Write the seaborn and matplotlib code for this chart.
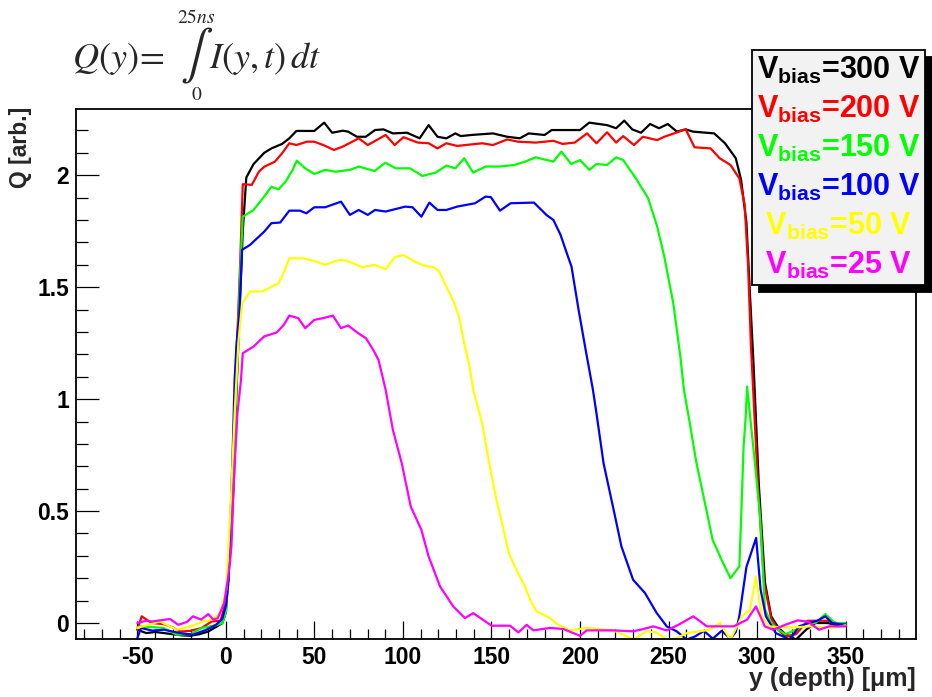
import numpy as np
import pandas as pd
import matplotlib
matplotlib.use("Agg")
import matplotlib.pyplot as plt
import seaborn as sns
from matplotlib.ticker import MultipleLocator, FixedLocator, FixedFormatter
from matplotlib.lines import Line2D

# ---------------- data ----------------
series_names = ["300 V", "200 V", "150 V", "100 V", "50 V", "25 V"]
series_colors = ["#000000", "#ff0000", "#00ff00", "#0000ff", "#ffff00", "#ff00ff"]

x_300 = [-50, -45, -40, -35, -30, -25, -20, -15, -10, -5, -2, 0, 2.5, 4.5, 5.5, 7.5, 9.5, 11.5,
         15.6, 21.6, 25.7, 31.7, 35.8, 39.8, 49.9, 55.5, 60, 66, 69, 74, 79, 84.2, 89, 94.3,
         102.3, 109.4, 114.5, 119.5, 124.5, 129.6, 132.6, 138.7, 150.8, 158.9, 166, 171, 180,
         184, 200, 205.2, 215.3, 220.4, 225, 229.5, 234.5, 239.6, 244.6, 249.6, 254.7, 259.7,
         263.8, 275.8, 281.9, 288, 291, 294, 296, 298, 301, 304.5, 308, 312, 316, 322, 327.7,
         333, 340, 345, 350]
q_300 = [-0.03, -0.045, -0.04, -0.045, -0.05, -0.055, -0.057, -0.05, -0.038, -0.015, 0.0, 0.05,
         0.34, 0.64, 0.94, 1.35, 1.75, 1.99, 2.05, 2.10, 2.12, 2.14, 2.165, 2.198, 2.198, 2.235,
         2.19, 2.199, 2.195, 2.172, 2.172, 2.202, 2.205, 2.187, 2.19, 2.165, 2.224, 2.172, 2.165,
         2.187, 2.175, 2.18, 2.187, 2.172, 2.165, 2.187, 2.18, 2.202, 2.202, 2.235, 2.224, 2.21,
         2.244, 2.205, 2.19, 2.229, 2.21, 2.229, 2.195, 2.205, 2.195, 2.187, 2.143, 2.076, 1.979,
         1.79, 1.47, 1.16, 0.62, 0.18, 0.03, -0.02, -0.05, -0.074, -0.03, 0.0, 0.0, -0.01, -0.01]

x_200 = [-50, -47.6, -42, -35, -30, -26, -20, -13.7, -8, -3, 0, 2.5, 5, 6.5, 8, 9.5, 14.6, 18.6,
         21.6, 27.7, 31.7, 35.8, 39.8, 45.8, 49.9, 55, 61, 66, 75, 80.1, 90.2, 95.3, 100.3, 108.4,
         114.5, 119.5, 124.5, 130.6, 144.7, 150.8, 158.9, 165, 175, 185, 190.1, 197, 204, 209.3,
         215.3, 220.4, 224.4, 230.5, 235.5, 243.6, 247.6, 259.7, 264.7, 273.8, 278.9, 285, 290,
         293, 295, 296.5, 300.5, 304, 308, 312, 316, 322, 328.5, 334, 340, 345, 350]
q_200 = [-0.03, 0.03, 0.0, -0.005, -0.02, -0.038, -0.035, -0.022, 0.007, 0.01, 0.1, 0.4, 0.95,
         1.3, 1.6, 1.96, 1.957, 2.016, 2.038, 2.061, 2.098, 2.143, 2.135, 2.15, 2.15, 2.135, 2.113,
         2.128, 2.165, 2.135, 2.18, 2.135, 2.17, 2.146, 2.143, 2.12, 2.143, 2.131, 2.143, 2.135,
         2.16, 2.15, 2.146, 2.154, 2.14, 2.146, 2.187, 2.143, 2.192, 2.146, 2.175, 2.135, 2.172,
         2.157, 2.172, 2.205, 2.125, 2.12, 2.076, 2.046, 1.986, 1.87, 1.59, 1.25, 0.62, 0.18,
         0.02, -0.03, -0.06, -0.05, 0.01, 0.01, 0.01, 0.0, -0.005]

x_150 = [-50, -48.7, -42, -35.3, -27.8, -20, -13.7, -5.6, -2, 0, 2.5, 4.5, 6.5, 8, 9.5, 15.6,
         21.6, 25.7, 29.7, 33.7, 37.7, 40, 44.8, 49.9, 56, 62, 70, 75, 84, 90, 96, 104, 111,
         118.5, 124.5, 129.6, 134.6, 139.6, 146.7, 154.8, 163, 169, 175, 185, 189.5, 195, 200,
         205.3, 209.3, 215.3, 220.4, 224.4, 231.5, 238.5, 243.6, 247.6, 252.7, 256.7, 258.7,
         261.7, 265.8, 269.8, 274.9, 280, 285, 290, 291, 292.4, 293.6, 294.4, 296, 299, 301.7,
         304.5, 308, 312, 316, 322, 328, 333, 338.6, 344, 350]
q_150 = [-0.02, -0.015, -0.018, -0.022, -0.052, -0.05, -0.022, -0.01, 0.0, 0.05, 0.35, 0.75,
         1.2, 1.55, 1.815, 1.845, 1.905, 1.949, 1.937, 1.972, 2.024, 2.065, 2.031, 2.006, 2.024,
         2.016, 2.024, 2.039, 2.019, 2.056, 2.031, 2.031, 1.997, 2.012, 2.043, 2.031, 2.076,
         2.012, 2.039, 2.039, 2.046, 2.061, 2.08, 2.061, 2.106, 2.05, 2.068, 2.024, 2.05, 2.046,
         2.08, 2.068, 1.987, 1.897, 1.771, 1.637, 1.428, 1.19, 1.042, 0.907, 0.714, 0.565,
         0.372, 0.282, 0.2, 0.253, 0.461, 0.788, 0.922, 1.056, 0.93, 0.7, 0.476, 0.06, 0.0,
         -0.03, -0.05, -0.03, 0.0, 0.0, 0.04, 0.0, 0.0]

x_100 = [-50, -48, -41.6, -35, -26, -18.6, -11, -5.6, -2, 0, 1.5, 2.5, 3.9, 4.9, 6, 7.5, 9.1,
         13.6, 21.6, 25.7, 30.7, 35.8, 41.8, 45.4, 49.9, 56, 65, 70, 75, 80.1, 84.2, 90.2, 101.3,
         105.4, 110.4, 114.9, 119.5, 124.5, 130.6, 140.7, 146.7, 149.7, 154.8, 160.8, 174, 181,
         185, 189, 193.2, 195.2, 199.2, 203.2, 207.3, 209.3, 213.3, 219.4, 223.4, 230, 236.7,
         243.3, 249, 254.6, 260.3, 265, 270, 275, 280, 285, 288, 290, 294, 299.5, 302, 305,
         310.6, 318.6, 323.7, 329.4, 334, 338.6, 342.4, 348, 350]
q_100 = [-0.067, -0.022, -0.034, -0.03, -0.045, -0.052, -0.03, -0.008, 0.02, 0.08, 0.19, 0.45,
         0.79, 1.086, 1.25, 1.37, 1.667, 1.689, 1.748, 1.786, 1.789, 1.842, 1.842, 1.83, 1.857,
         1.857, 1.882, 1.823, 1.845, 1.823, 1.845, 1.838, 1.86, 1.857, 1.815, 1.878, 1.845,
         1.845, 1.86, 1.875, 1.905, 1.902, 1.842, 1.875, 1.878, 1.823, 1.8, 1.734, 1.637, 1.592,
         1.399, 1.22, 1.042, 0.937, 0.714, 0.491, 0.342, 0.193, 0.134, 0.045, -0.015, -0.037,
         -0.074, -0.06, -0.035, -0.07, -0.035, -0.07, -0.04, 0.03, 0.25, 0.38, 0.15, 0.03,
         -0.045, -0.074, -0.015, 0.0, 0.01, 0.03, 0.0, -0.006, -0.006]

x_50 = [-50, -45, -37.3, -27.8, -20, -12.8, -8, -3.3, 0.2, 2.5, 5, 7, 9.1, 13.6, 20.6, 29.7,
        31.7, 35.8, 43.8, 49.9, 56, 64, 68, 77.1, 84.2, 90.2, 95.3, 100.3, 106.4, 112.4, 117.5,
        120.5, 124.5, 128.6, 131.6, 134.6, 137.6, 139.7, 144.7, 148.7, 152.8, 156.8, 159.8,
        164.9, 168, 172.7, 175.5, 183, 187.7, 194.3, 203.8, 218.8, 224.4, 230, 237.6, 243.3,
        249, 254, 260.3, 267.8, 273, 279.2, 284.9, 291.5, 296, 299.4, 302.7, 307, 313, 320, 330,
        338, 345, 350]
q_50 = [-0.022, -0.01, 0.007, -0.03, -0.015, 0.007, 0.015, 0.044, 0.148, 0.5, 0.95, 1.25, 1.428,
        1.481, 1.481, 1.518, 1.548, 1.629, 1.629, 1.617, 1.6, 1.622, 1.619, 1.589, 1.6, 1.58,
        1.634, 1.644, 1.615, 1.595, 1.589, 1.57, 1.503, 1.436, 1.369, 1.25, 1.146, 1.042, 0.893,
        0.714, 0.55, 0.416, 0.312, 0.223, 0.178, 0.089, 0.052, 0.022, -0.008, -0.033, -0.022,
        -0.033, -0.052, -0.074, -0.037, -0.042, -0.074, -0.07, -0.045, -0.037, -0.03, 0.0,
        -0.074, 0.03, 0.06, 0.208, 0.03, -0.015, -0.02, -0.02, -0.015, -0.02, -0.02, -0.01]

x_25 = [-50, -45, -41.6, -31.6, -26.9, -22, -18.6, -14, -10, -7, -4.6, -1, 1.3, 2.4, 3.1, 4.5,
        6.5, 8.5, 9.5, 15.6, 21.6, 28.7, 32.7, 35.8, 40.8, 44.8, 49.9, 55, 60.4, 65, 69, 74.1,
        79.1, 83.2, 86.2, 90.2, 94.3, 99.3, 104.4, 110.4, 114.5, 120.9, 128.4, 135, 139.7,
        150.1, 160.5, 165.2, 169.9, 173.6, 183, 190.6, 200, 203.8, 218.8, 230.1, 235.8, 241.4,
        249, 255.6, 264, 271.7, 286.8, 294.4, 299.4, 304.4, 309, 316.6, 323, 329, 335, 340.7,
        350]
q_25 = [0.0, 0.01, 0.007, 0.018, -0.008, 0.005, 0.03, 0.015, 0.04, 0.015, 0.022, 0.089, 0.208,
        0.28, 0.342, 0.64, 0.937, 1.086, 1.205, 1.235, 1.28, 1.298, 1.332, 1.373, 1.362, 1.317,
        1.354, 1.362, 1.373, 1.317, 1.329, 1.298, 1.272, 1.22, 1.175, 1.042, 0.863, 0.714, 0.52,
        0.416, 0.297, 0.164, 0.074, 0.022, 0.044, -0.012, -0.012, -0.042, -0.008, -0.033,
        -0.022, -0.027, -0.057, -0.033, -0.033, -0.037, -0.027, -0.015, -0.033, -0.008, 0.03,
        -0.015, -0.015, 0.015, 0.074, -0.015, -0.03, -0.006, 0.012, 0.005, -0.03, -0.015, -0.015]

series_x = [x_300, x_200, x_150, x_100, x_50, x_25]
series_q = [q_300, q_200, q_150, q_100, q_50, q_25]

x_major_ticks = [-50, 0, 50, 100, 150, 200, 250, 300, 350]
x_tick_labels = ["-50", "0", "50", "100", "150", "200", "250", "300", "350"]
y_major_ticks = [0, 0.5, 1, 1.5, 2]
y_tick_labels = ["0", "0.5", "1", "1.5", "2"]

# ---------------- style ----------------
sns.set_theme(style="white")
plt.rcParams["font.family"] = ["Liberation Sans", "DejaVu Sans"]
plt.rcParams["font.weight"] = "normal"
plt.rcParams["mathtext.fontset"] = "custom"
plt.rcParams["mathtext.rm"] = "Liberation Sans:bold"
plt.rcParams["mathtext.it"] = "Liberation Sans:bold"
plt.rcParams["mathtext.bf"] = "Liberation Sans:bold"

frames = []
for name, xs, qs in zip(series_names, series_x, series_q):
    frames.append(pd.DataFrame({"y": xs, "Q": qs, "Vbias": name}))
df = pd.concat(frames, ignore_index=True)

W, H = 932, 697
fig = plt.figure(figsize=(W / 100, H / 100), dpi=100)
ax_l, ax_r, ax_t, ax_b = 76, 916, 109, 639
ax = fig.add_axes([ax_l / W, 1 - ax_b / H, (ax_r - ax_l) / W, (ax_b - ax_t) / H])

palette = dict(zip(series_names, series_colors))
sns.lineplot(data=df, x="y", y="Q", hue="Vbias", hue_order=series_names,
             palette=palette, estimator=None, sort=False, linewidth=1.6,
             legend=False, ax=ax)

ax.set_xlim(-84.7, 389.8)
ax.set_ylim(-0.0714, 2.296)

ax.set_xticks(x_major_ticks, labels=x_tick_labels, fontweight="bold", fontsize=16.5)
ax.set_yticks(y_major_ticks, labels=y_tick_labels, fontweight="bold", fontsize=16.5)
ax.xaxis.set_minor_locator(MultipleLocator(10))
ax.yaxis.set_minor_locator(MultipleLocator(0.1))

ax.tick_params(axis="both", which="both", direction="in", top=False, right=False,
               bottom=True, left=True, colors="black", width=0.9)
ax.tick_params(axis="x", which="major", length=13, pad=5)
ax.tick_params(axis="x", which="minor", length=7.2)
ax.tick_params(axis="y", which="major", length=16.5, pad=5)
ax.tick_params(axis="y", which="minor", length=8.6)
for sp in ax.spines.values():
    sp.set_color("black")
    sp.set_linewidth(1.3)

ax.set_xlabel("y (depth) [\u03bcm]", fontsize=18, fontweight="bold", loc="right")
ax.xaxis.set_label_coords(1.0, -0.052)
ax.set_ylabel("Q [arb.]", fontsize=16.5, fontweight="bold", loc="top")
ax.yaxis.set_label_coords(-0.052, 1.004)

# legend (shorter labels get a leading space so the block looks centred as in the original)
handles = [Line2D([], [], color=c, lw=0) for c in series_colors]
labels = []
for n in series_names:
    pre = " " if len(n) < 5 else ""
    labels.append(pre + r"$\mathregular{V_{bias}}$=" + n)
leg = ax.legend(handles, labels, loc="upper left",
                bbox_to_anchor=(752 / W, 1 - 50 / H), bbox_transform=fig.transFigure,
                borderaxespad=0, handlelength=0, handletextpad=0, labelcolor="linecolor",
                prop={"family": "Liberation Sans", "weight": "bold", "size": 22},
                frameon=True, fancybox=False, facecolor="#f2f2f2", edgecolor="black",
                framealpha=1, borderpad=0.15, labelspacing=0.26,
                shadow={"ox": 5, "oy": -5, "color": "black", "alpha": 1})
leg.get_frame().set_linewidth(1.3)

# formula
def fx(px):
    return px / W

def fy(py):
    return 1 - py / H

fkw = dict(math_fontfamily="stix", fontweight="normal")
fig.text(fx(72), fy(68), r"$Q(y)\!=$", fontsize=26, ha="left", va="baseline", **fkw)
fig.text(fx(197), fy(56), r"$\int$", fontsize=35, ha="center", va="center", **fkw)
fig.text(fx(177), fy(18), r"$25ns$", fontsize=14, ha="left", va="center", **fkw)
fig.text(fx(197), fy(96), r"$0$", fontsize=14, ha="center", va="center", **fkw)
fig.text(fx(209), fy(68), r"$I(y,t)\,dt$", fontsize=26, ha="left", va="baseline", **fkw)

fig.savefig("out.png", dpi=100, facecolor="white")
